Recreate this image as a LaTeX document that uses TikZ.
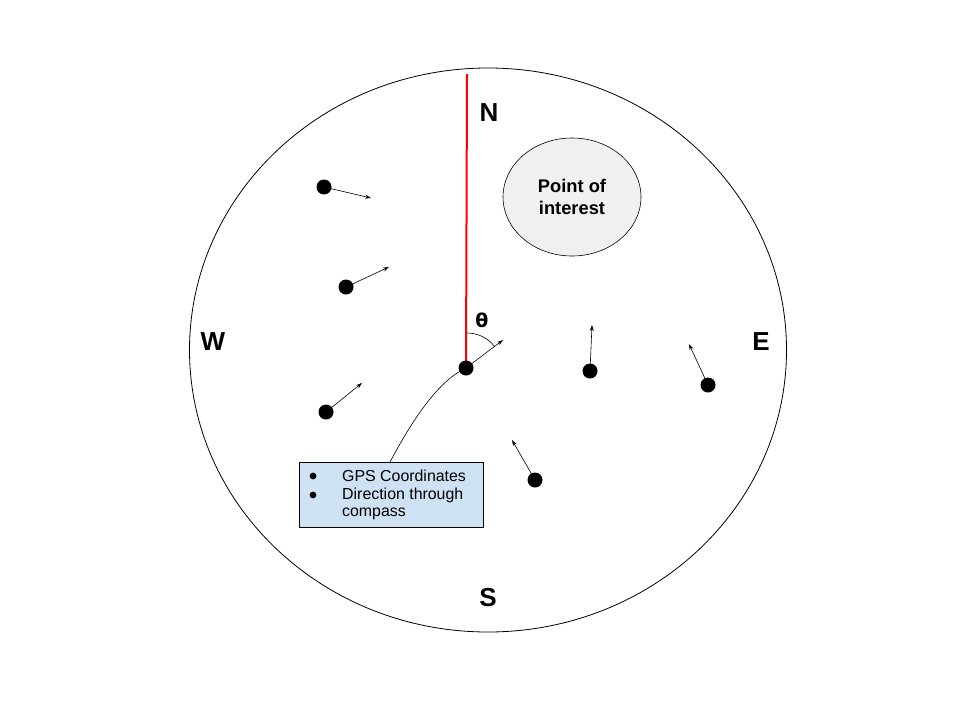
\documentclass[tikz,border=0pt]{standalone}
\usepackage{fontspec}
\setmainfont{Liberation Sans}
\newfontfamily\thetafont{DejaVu Sans}
\usetikzlibrary{arrows.meta,shapes.geometric}
\begin{document}
\begin{tikzpicture}[x=1pt,y=-1pt,
  dot/.style={circle,fill=black,inner sep=0pt,minimum size=15pt},
  dir/.style={-{Stealth[length=6pt,width=4pt]},line width=0.6pt},
  compasslbl/.style={font=\fontsize{26}{30}\selectfont\bfseries},
  ]
\useasboundingbox (0,0) rectangle (960,720);
\node[draw,ellipse,line width=0.8pt,minimum width=597pt,minimum height=564pt,inner sep=0pt] (world) at (488,350) {};
\coordinate (ntop) at (467,74);
\coordinate (cc) at (466,368);
\draw[red,line width=2pt] (ntop) -- (cc);
\node[dot] (c) at (cc) {};
\node[draw,ellipse,fill=black!6,line width=0.6pt,minimum width=138pt,minimum height=118pt,inner sep=0pt,align=center,font=\fontsize{18.3}{22}\selectfont\bfseries] (poi) at (572,197) {Point of\\interest};
\node[compasslbl] (N) at (489,113) {N};
\node[compasslbl] (W) at (213,342) {W};
\node[compasslbl] (E) at (761,342) {E};
\node[compasslbl] (S) at (488,598) {S};
% dots and direction arrows
\node[dot] (d1) at (324,187) {}; \coordinate (a1) at (371,198); \draw[dir] (d1.center) -- (a1);
\node[dot] (d2) at (346,287) {}; \coordinate (a2) at (389,267); \draw[dir] (d2.center) -- (a2);
\node[dot] (d3) at (326,412) {}; \coordinate (a3) at (362,383); \draw[dir] (d3.center) -- (a3);
\coordinate (a0) at (503,340); \draw[dir] (c.center) -- (a0);
\node[dot] (d4) at (590,371) {}; \coordinate (a4) at (592,325); \draw[dir] (d4.center) -- (a4);
\node[dot] (d5) at (708,385) {}; \coordinate (a5) at (689,344); \draw[dir] (d5.center) -- (a5);
\node[dot] (d6) at (535,480) {}; \coordinate (a6) at (512,440); \draw[dir] (d6.center) -- (a6);
% theta arc
\draw[line width=0.6pt] (467,333) arc[start angle=-90,end angle=-37,radius=35];
\node[font=\fontsize{19}{24}\selectfont\thetafont\bfseries] (th) at (482,320) {θ};
% info box
\node[draw,fill={rgb,255:red,207;green,226;blue,243},line width=0.8pt,minimum width=184pt,minimum height=65pt,anchor=north west,inner sep=0pt] (box) at (299,462) {};
\begin{scope}[font=\fontsize{15.9}{18}\selectfont]
\node[anchor=west,inner sep=0pt] (b1t) at (342,476) {GPS Coordinates};
\node[anchor=west,inner sep=0pt] (b2t) at (342,495) {Direction through};
\node[anchor=west,inner sep=0pt] (b3t) at (342,514) {compass};
\fill (313,476) circle (3.4pt);
\fill (313,495) circle (3.4pt);
\end{scope}
\draw[line width=0.6pt] (390,462) .. controls (415,415) and (440,380) .. (c.center);
\end{tikzpicture}
\end{document}
